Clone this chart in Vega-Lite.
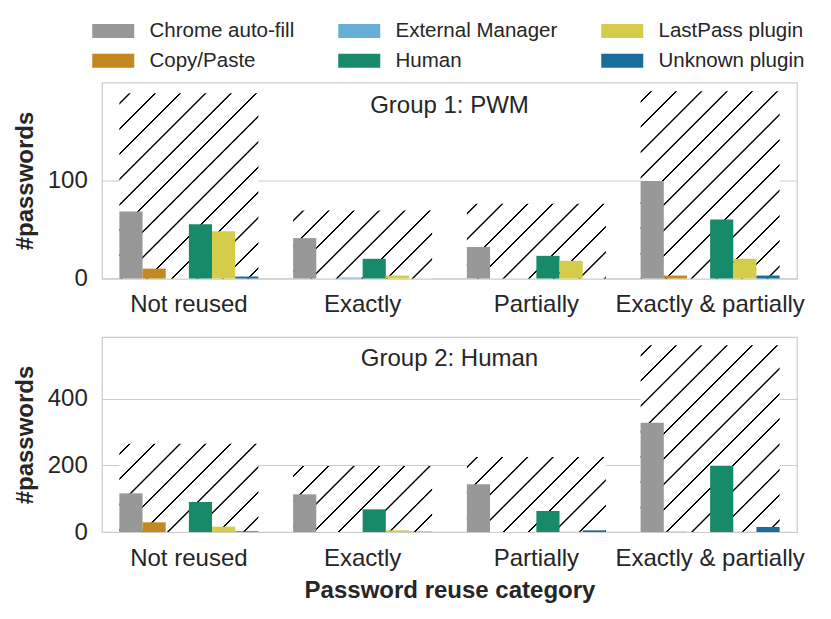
{
  "$schema": "https://vega.github.io/schema/vega-lite/v6.json",
  "background": "white",
  "padding": {"left": 12, "top": 20.5, "right": 24, "bottom": 10},
  "datasets": {
    "bars": [
      {"group": "PWM", "category": "Not reused", "method": "Chrome auto-fill", "n": 68},
      {"group": "PWM", "category": "Not reused", "method": "Copy/Paste", "n": 10},
      {"group": "PWM", "category": "Not reused", "method": "External Manager", "n": 0},
      {"group": "PWM", "category": "Not reused", "method": "Human", "n": 55},
      {"group": "PWM", "category": "Not reused", "method": "LastPass plugin", "n": 48},
      {"group": "PWM", "category": "Not reused", "method": "Unknown plugin", "n": 2},
      {"group": "PWM", "category": "Exactly", "method": "Chrome auto-fill", "n": 41},
      {"group": "PWM", "category": "Exactly", "method": "Copy/Paste", "n": 0},
      {"group": "PWM", "category": "Exactly", "method": "External Manager", "n": 1},
      {"group": "PWM", "category": "Exactly", "method": "Human", "n": 20},
      {"group": "PWM", "category": "Exactly", "method": "LastPass plugin", "n": 3},
      {"group": "PWM", "category": "Exactly", "method": "Unknown plugin", "n": 0},
      {"group": "PWM", "category": "Partially", "method": "Chrome auto-fill", "n": 32},
      {"group": "PWM", "category": "Partially", "method": "Copy/Paste", "n": 0},
      {"group": "PWM", "category": "Partially", "method": "External Manager", "n": 0},
      {"group": "PWM", "category": "Partially", "method": "Human", "n": 23},
      {"group": "PWM", "category": "Partially", "method": "LastPass plugin", "n": 18},
      {"group": "PWM", "category": "Partially", "method": "Unknown plugin", "n": 0},
      {"group": "PWM", "category": "Exactly & partially", "method": "Chrome auto-fill", "n": 99},
      {"group": "PWM", "category": "Exactly & partially", "method": "Copy/Paste", "n": 3},
      {"group": "PWM", "category": "Exactly & partially", "method": "External Manager", "n": 0},
      {"group": "PWM", "category": "Exactly & partially", "method": "Human", "n": 60},
      {"group": "PWM", "category": "Exactly & partially", "method": "LastPass plugin", "n": 20},
      {"group": "PWM", "category": "Exactly & partially", "method": "Unknown plugin", "n": 3},
      {"group": "Human", "category": "Not reused", "method": "Chrome auto-fill", "n": 116},
      {"group": "Human", "category": "Not reused", "method": "Copy/Paste", "n": 29},
      {"group": "Human", "category": "Not reused", "method": "External Manager", "n": 0},
      {"group": "Human", "category": "Not reused", "method": "Human", "n": 90},
      {"group": "Human", "category": "Not reused", "method": "LastPass plugin", "n": 16},
      {"group": "Human", "category": "Not reused", "method": "Unknown plugin", "n": 2},
      {"group": "Human", "category": "Exactly", "method": "Chrome auto-fill", "n": 113},
      {"group": "Human", "category": "Exactly", "method": "Copy/Paste", "n": 0},
      {"group": "Human", "category": "Exactly", "method": "External Manager", "n": 0},
      {"group": "Human", "category": "Exactly", "method": "Human", "n": 68},
      {"group": "Human", "category": "Exactly", "method": "LastPass plugin", "n": 5},
      {"group": "Human", "category": "Exactly", "method": "Unknown plugin", "n": 1},
      {"group": "Human", "category": "Partially", "method": "Chrome auto-fill", "n": 143},
      {"group": "Human", "category": "Partially", "method": "Copy/Paste", "n": 0},
      {"group": "Human", "category": "Partially", "method": "External Manager", "n": 0},
      {"group": "Human", "category": "Partially", "method": "Human", "n": 63},
      {"group": "Human", "category": "Partially", "method": "LastPass plugin", "n": 1},
      {"group": "Human", "category": "Partially", "method": "Unknown plugin", "n": 5},
      {"group": "Human", "category": "Exactly & partially", "method": "Chrome auto-fill", "n": 328},
      {"group": "Human", "category": "Exactly & partially", "method": "Copy/Paste", "n": 1},
      {"group": "Human", "category": "Exactly & partially", "method": "External Manager", "n": 0},
      {"group": "Human", "category": "Exactly & partially", "method": "Human", "n": 199},
      {"group": "Human", "category": "Exactly & partially", "method": "LastPass plugin", "n": 1},
      {"group": "Human", "category": "Exactly & partially", "method": "Unknown plugin", "n": 15}
    ],
    "totals": [
      {"group": "PWM", "category": "Not reused", "n": 188},
      {"group": "PWM", "category": "Exactly", "n": 69},
      {"group": "PWM", "category": "Partially", "n": 76},
      {"group": "PWM", "category": "Exactly & partially", "n": 190},
      {"group": "Human", "category": "Not reused", "n": 265},
      {"group": "Human", "category": "Exactly", "n": 198},
      {"group": "Human", "category": "Partially", "n": 225},
      {"group": "Human", "category": "Exactly & partially", "n": 560}
    ]
  },
  "vconcat": [
    {
      "title": {"text": "Group 1: PWM", "offset": -54.8, "baseline": "alphabetic", "frame": "group", "anchor": "middle", "font": "Liberation Sans", "fontSize": 24, "fontWeight": "normal", "color": "#262626"},
      "width": 695,
      "height": 196,
      "encoding": {
        "x": {"field": "category", "type": "nominal", "scale": {"domain": ["Not reused", "Exactly", "Partially", "Exactly & partially"], "paddingInner": 0.2, "paddingOuter": 0.1}, "axis": {"title": null}},
        "y": {"field": "n", "type": "quantitative", "stack": null, "scale": {"domain": [0, 199], "nice": false, "zero": true}, "axis": {"title": "#passwords", "values": [0, 100]}}
      },
      "layer": [
        {"data": {"name": "totals"}, "transform": [{"filter": "datum.group === 'PWM' && datum.category === 'Not reused'"}],
         "mark": {"type": "bar", "fill": {"gradient": "linear", "x1": 0, "y1": 0, "x2": 2.592, "y2": 3.454, "stops": [{"offset":0.009,"color":"#fff"},{"offset":0.0096,"color":"#000"},{"offset":0.011,"color":"#000"},{"offset":0.0116,"color":"#fff"},{"offset":0.0343,"color":"#fff"},{"offset":0.0349,"color":"#000"},{"offset":0.0363,"color":"#000"},{"offset":0.0369,"color":"#fff"},{"offset":0.0596,"color":"#fff"},{"offset":0.0602,"color":"#000"},{"offset":0.0616,"color":"#000"},{"offset":0.0622,"color":"#fff"},{"offset":0.0849,"color":"#fff"},{"offset":0.0855,"color":"#000"},{"offset":0.0869,"color":"#000"},{"offset":0.0875,"color":"#fff"},{"offset":0.1102,"color":"#fff"},{"offset":0.1108,"color":"#000"},{"offset":0.1122,"color":"#000"},{"offset":0.1128,"color":"#fff"},{"offset":0.1355,"color":"#fff"},{"offset":0.1361,"color":"#000"},{"offset":0.1375,"color":"#000"},{"offset":0.1381,"color":"#fff"},{"offset":0.1608,"color":"#fff"},{"offset":0.1614,"color":"#000"},{"offset":0.1628,"color":"#000"},{"offset":0.1634,"color":"#fff"},{"offset":0.1861,"color":"#fff"},{"offset":0.1867,"color":"#000"},{"offset":0.1881,"color":"#000"},{"offset":0.1887,"color":"#fff"},{"offset":0.2114,"color":"#fff"},{"offset":0.212,"color":"#000"},{"offset":0.2134,"color":"#000"},{"offset":0.214,"color":"#fff"},{"offset":0.2367,"color":"#fff"},{"offset":0.2373,"color":"#000"},{"offset":0.2387,"color":"#000"},{"offset":0.2393,"color":"#fff"},{"offset":0.262,"color":"#fff"},{"offset":0.2626,"color":"#000"},{"offset":0.264,"color":"#000"},{"offset":0.2646,"color":"#fff"},{"offset":0.2873,"color":"#fff"},{"offset":0.2879,"color":"#000"},{"offset":0.2893,"color":"#000"},{"offset":0.2899,"color":"#fff"},{"offset":0.3126,"color":"#fff"},{"offset":0.3132,"color":"#000"},{"offset":0.3146,"color":"#000"},{"offset":0.3152,"color":"#fff"},{"offset":0.3379,"color":"#fff"},{"offset":0.3385,"color":"#000"},{"offset":0.3399,"color":"#000"},{"offset":0.3405,"color":"#fff"}]}}},
        {"data": {"name": "totals"}, "transform": [{"filter": "datum.group === 'PWM' && datum.category === 'Exactly'"}],
         "mark": {"type": "bar", "fill": {"gradient": "linear", "x1": 0, "y1": 0, "x2": 5.805, "y2": 2.840, "stops": [{"offset":0.009,"color":"#fff"},{"offset":0.0096,"color":"#000"},{"offset":0.011,"color":"#000"},{"offset":0.0116,"color":"#fff"},{"offset":0.0343,"color":"#fff"},{"offset":0.0349,"color":"#000"},{"offset":0.0363,"color":"#000"},{"offset":0.0369,"color":"#fff"},{"offset":0.0596,"color":"#fff"},{"offset":0.0602,"color":"#000"},{"offset":0.0616,"color":"#000"},{"offset":0.0622,"color":"#fff"},{"offset":0.0849,"color":"#fff"},{"offset":0.0855,"color":"#000"},{"offset":0.0869,"color":"#000"},{"offset":0.0875,"color":"#fff"},{"offset":0.1102,"color":"#fff"},{"offset":0.1108,"color":"#000"},{"offset":0.1122,"color":"#000"},{"offset":0.1128,"color":"#fff"},{"offset":0.1355,"color":"#fff"},{"offset":0.1361,"color":"#000"},{"offset":0.1375,"color":"#000"},{"offset":0.1381,"color":"#fff"},{"offset":0.1608,"color":"#fff"},{"offset":0.1614,"color":"#000"},{"offset":0.1628,"color":"#000"},{"offset":0.1634,"color":"#fff"},{"offset":0.1861,"color":"#fff"},{"offset":0.1867,"color":"#000"},{"offset":0.1881,"color":"#000"},{"offset":0.1887,"color":"#fff"},{"offset":0.2114,"color":"#fff"},{"offset":0.212,"color":"#000"},{"offset":0.2134,"color":"#000"},{"offset":0.214,"color":"#fff"},{"offset":0.2367,"color":"#fff"},{"offset":0.2373,"color":"#000"},{"offset":0.2387,"color":"#000"},{"offset":0.2393,"color":"#fff"},{"offset":0.262,"color":"#fff"},{"offset":0.2626,"color":"#000"},{"offset":0.264,"color":"#000"},{"offset":0.2646,"color":"#fff"},{"offset":0.2873,"color":"#fff"},{"offset":0.2879,"color":"#000"},{"offset":0.2893,"color":"#000"},{"offset":0.2899,"color":"#fff"},{"offset":0.3126,"color":"#fff"},{"offset":0.3132,"color":"#000"},{"offset":0.3146,"color":"#000"},{"offset":0.3152,"color":"#fff"},{"offset":0.3379,"color":"#fff"},{"offset":0.3385,"color":"#000"},{"offset":0.3399,"color":"#000"},{"offset":0.3405,"color":"#fff"}]}}},
        {"data": {"name": "totals"}, "transform": [{"filter": "datum.group === 'PWM' && datum.category === 'Partially'"}],
         "mark": {"type": "bar", "fill": {"gradient": "linear", "x1": 0, "y1": 0, "x2": 5.575, "y2": 3.004, "stops": [{"offset":0.009,"color":"#fff"},{"offset":0.0096,"color":"#000"},{"offset":0.011,"color":"#000"},{"offset":0.0116,"color":"#fff"},{"offset":0.0343,"color":"#fff"},{"offset":0.0349,"color":"#000"},{"offset":0.0363,"color":"#000"},{"offset":0.0369,"color":"#fff"},{"offset":0.0596,"color":"#fff"},{"offset":0.0602,"color":"#000"},{"offset":0.0616,"color":"#000"},{"offset":0.0622,"color":"#fff"},{"offset":0.0849,"color":"#fff"},{"offset":0.0855,"color":"#000"},{"offset":0.0869,"color":"#000"},{"offset":0.0875,"color":"#fff"},{"offset":0.1102,"color":"#fff"},{"offset":0.1108,"color":"#000"},{"offset":0.1122,"color":"#000"},{"offset":0.1128,"color":"#fff"},{"offset":0.1355,"color":"#fff"},{"offset":0.1361,"color":"#000"},{"offset":0.1375,"color":"#000"},{"offset":0.1381,"color":"#fff"},{"offset":0.1608,"color":"#fff"},{"offset":0.1614,"color":"#000"},{"offset":0.1628,"color":"#000"},{"offset":0.1634,"color":"#fff"},{"offset":0.1861,"color":"#fff"},{"offset":0.1867,"color":"#000"},{"offset":0.1881,"color":"#000"},{"offset":0.1887,"color":"#fff"},{"offset":0.2114,"color":"#fff"},{"offset":0.212,"color":"#000"},{"offset":0.2134,"color":"#000"},{"offset":0.214,"color":"#fff"},{"offset":0.2367,"color":"#fff"},{"offset":0.2373,"color":"#000"},{"offset":0.2387,"color":"#000"},{"offset":0.2393,"color":"#fff"},{"offset":0.262,"color":"#fff"},{"offset":0.2626,"color":"#000"},{"offset":0.264,"color":"#000"},{"offset":0.2646,"color":"#fff"},{"offset":0.2873,"color":"#fff"},{"offset":0.2879,"color":"#000"},{"offset":0.2893,"color":"#000"},{"offset":0.2899,"color":"#fff"},{"offset":0.3126,"color":"#fff"},{"offset":0.3132,"color":"#000"},{"offset":0.3146,"color":"#000"},{"offset":0.3152,"color":"#fff"},{"offset":0.3379,"color":"#fff"},{"offset":0.3385,"color":"#000"},{"offset":0.3399,"color":"#000"},{"offset":0.3405,"color":"#fff"}]}}},
        {"data": {"name": "totals"}, "transform": [{"filter": "datum.group === 'PWM' && datum.category === 'Exactly & partially'"}],
         "mark": {"type": "bar", "fill": {"gradient": "linear", "x1": 0, "y1": 0, "x2": 2.559, "y2": 3.444, "stops": [{"offset":0.009,"color":"#fff"},{"offset":0.0096,"color":"#000"},{"offset":0.011,"color":"#000"},{"offset":0.0116,"color":"#fff"},{"offset":0.0343,"color":"#fff"},{"offset":0.0349,"color":"#000"},{"offset":0.0363,"color":"#000"},{"offset":0.0369,"color":"#fff"},{"offset":0.0596,"color":"#fff"},{"offset":0.0602,"color":"#000"},{"offset":0.0616,"color":"#000"},{"offset":0.0622,"color":"#fff"},{"offset":0.0849,"color":"#fff"},{"offset":0.0855,"color":"#000"},{"offset":0.0869,"color":"#000"},{"offset":0.0875,"color":"#fff"},{"offset":0.1102,"color":"#fff"},{"offset":0.1108,"color":"#000"},{"offset":0.1122,"color":"#000"},{"offset":0.1128,"color":"#fff"},{"offset":0.1355,"color":"#fff"},{"offset":0.1361,"color":"#000"},{"offset":0.1375,"color":"#000"},{"offset":0.1381,"color":"#fff"},{"offset":0.1608,"color":"#fff"},{"offset":0.1614,"color":"#000"},{"offset":0.1628,"color":"#000"},{"offset":0.1634,"color":"#fff"},{"offset":0.1861,"color":"#fff"},{"offset":0.1867,"color":"#000"},{"offset":0.1881,"color":"#000"},{"offset":0.1887,"color":"#fff"},{"offset":0.2114,"color":"#fff"},{"offset":0.212,"color":"#000"},{"offset":0.2134,"color":"#000"},{"offset":0.214,"color":"#fff"},{"offset":0.2367,"color":"#fff"},{"offset":0.2373,"color":"#000"},{"offset":0.2387,"color":"#000"},{"offset":0.2393,"color":"#fff"},{"offset":0.262,"color":"#fff"},{"offset":0.2626,"color":"#000"},{"offset":0.264,"color":"#000"},{"offset":0.2646,"color":"#fff"},{"offset":0.2873,"color":"#fff"},{"offset":0.2879,"color":"#000"},{"offset":0.2893,"color":"#000"},{"offset":0.2899,"color":"#fff"},{"offset":0.3126,"color":"#fff"},{"offset":0.3132,"color":"#000"},{"offset":0.3146,"color":"#000"},{"offset":0.3152,"color":"#fff"},{"offset":0.3379,"color":"#fff"},{"offset":0.3385,"color":"#000"},{"offset":0.3399,"color":"#000"},{"offset":0.3405,"color":"#fff"}]}}},
        {"data": {"name": "bars"}, "transform": [{"filter": "datum.group === 'PWM'"}],
         "mark": {"type": "bar"},
         "encoding": {
           "xOffset": {"field": "method", "type": "nominal", "scale": {"domain": ["Chrome auto-fill", "Copy/Paste", "External Manager", "Human", "LastPass plugin", "Unknown plugin"], "paddingInner": 0, "paddingOuter": 0}},
           "color": {"field": "method", "type": "nominal", "scale": {"domain": ["Chrome auto-fill", "Copy/Paste", "External Manager", "Human", "LastPass plugin", "Unknown plugin"], "range": ["#989898", "#C38820", "#68AFD7", "#168A6A", "#D5CD4A", "#176D9C"]},
             "legend": {"orient": "none", "legendX": -13, "legendY": -62, "columns": 3, "title": null, "symbolType": "M-3,-1H3V1H-3Z", "symbolSize": 196, "symbolOffset": 14, "labelOffset": 26, "labelFontSize": 20.5, "labelFont": "Liberation Sans", "labelColor": "#262626", "columnPadding": 40, "rowPadding": 9, "symbolStrokeWidth": 0, "symbolOpacity": 1, "labelLimit": 0}}
         }}
      ]
    },
    {
      "title": {"text": "Group 2: Human", "offset": -53, "baseline": "alphabetic", "frame": "group", "anchor": "middle", "font": "Liberation Sans", "fontSize": 24, "fontWeight": "normal", "color": "#262626"},
      "width": 695,
      "height": 195,
      "encoding": {
        "x": {"field": "category", "type": "nominal", "scale": {"domain": ["Not reused", "Exactly", "Partially", "Exactly & partially"], "paddingInner": 0.2, "paddingOuter": 0.1}, "axis": {"title": "Password reuse category"}},
        "y": {"field": "n", "type": "quantitative", "stack": null, "scale": {"domain": [0, 585], "nice": false, "zero": true}, "axis": {"title": "#passwords", "values": [0, 200, 400]}}
      },
      "layer": [
        {"data": {"name": "totals"}, "transform": [{"filter": "datum.group === 'Human' && datum.category === 'Not reused'"}],
         "mark": {"type": "bar", "fill": {"gradient": "linear", "x1": 0, "y1": 0, "x2": 5.126, "y2": 3.256, "stops": [{"offset":0.009,"color":"#fff"},{"offset":0.0096,"color":"#000"},{"offset":0.011,"color":"#000"},{"offset":0.0116,"color":"#fff"},{"offset":0.0343,"color":"#fff"},{"offset":0.0349,"color":"#000"},{"offset":0.0363,"color":"#000"},{"offset":0.0369,"color":"#fff"},{"offset":0.0596,"color":"#fff"},{"offset":0.0602,"color":"#000"},{"offset":0.0616,"color":"#000"},{"offset":0.0622,"color":"#fff"},{"offset":0.0849,"color":"#fff"},{"offset":0.0855,"color":"#000"},{"offset":0.0869,"color":"#000"},{"offset":0.0875,"color":"#fff"},{"offset":0.1102,"color":"#fff"},{"offset":0.1108,"color":"#000"},{"offset":0.1122,"color":"#000"},{"offset":0.1128,"color":"#fff"},{"offset":0.1355,"color":"#fff"},{"offset":0.1361,"color":"#000"},{"offset":0.1375,"color":"#000"},{"offset":0.1381,"color":"#fff"},{"offset":0.1608,"color":"#fff"},{"offset":0.1614,"color":"#000"},{"offset":0.1628,"color":"#000"},{"offset":0.1634,"color":"#fff"},{"offset":0.1861,"color":"#fff"},{"offset":0.1867,"color":"#000"},{"offset":0.1881,"color":"#000"},{"offset":0.1887,"color":"#fff"},{"offset":0.2114,"color":"#fff"},{"offset":0.212,"color":"#000"},{"offset":0.2134,"color":"#000"},{"offset":0.214,"color":"#fff"},{"offset":0.2367,"color":"#fff"},{"offset":0.2373,"color":"#000"},{"offset":0.2387,"color":"#000"},{"offset":0.2393,"color":"#fff"},{"offset":0.262,"color":"#fff"},{"offset":0.2626,"color":"#000"},{"offset":0.264,"color":"#000"},{"offset":0.2646,"color":"#fff"},{"offset":0.2873,"color":"#fff"},{"offset":0.2879,"color":"#000"},{"offset":0.2893,"color":"#000"},{"offset":0.2899,"color":"#fff"},{"offset":0.3126,"color":"#fff"},{"offset":0.3132,"color":"#000"},{"offset":0.3146,"color":"#000"},{"offset":0.3152,"color":"#fff"},{"offset":0.3379,"color":"#fff"},{"offset":0.3385,"color":"#000"},{"offset":0.3399,"color":"#000"},{"offset":0.3405,"color":"#fff"}]}}},
        {"data": {"name": "totals"}, "transform": [{"filter": "datum.group === 'Human' && datum.category === 'Exactly'"}],
         "mark": {"type": "bar", "fill": {"gradient": "linear", "x1": 0, "y1": 0, "x2": 5.871, "y2": 2.788, "stops": [{"offset":0.009,"color":"#fff"},{"offset":0.0096,"color":"#000"},{"offset":0.011,"color":"#000"},{"offset":0.0116,"color":"#fff"},{"offset":0.0343,"color":"#fff"},{"offset":0.0349,"color":"#000"},{"offset":0.0363,"color":"#000"},{"offset":0.0369,"color":"#fff"},{"offset":0.0596,"color":"#fff"},{"offset":0.0602,"color":"#000"},{"offset":0.0616,"color":"#000"},{"offset":0.0622,"color":"#fff"},{"offset":0.0849,"color":"#fff"},{"offset":0.0855,"color":"#000"},{"offset":0.0869,"color":"#000"},{"offset":0.0875,"color":"#fff"},{"offset":0.1102,"color":"#fff"},{"offset":0.1108,"color":"#000"},{"offset":0.1122,"color":"#000"},{"offset":0.1128,"color":"#fff"},{"offset":0.1355,"color":"#fff"},{"offset":0.1361,"color":"#000"},{"offset":0.1375,"color":"#000"},{"offset":0.1381,"color":"#fff"},{"offset":0.1608,"color":"#fff"},{"offset":0.1614,"color":"#000"},{"offset":0.1628,"color":"#000"},{"offset":0.1634,"color":"#fff"},{"offset":0.1861,"color":"#fff"},{"offset":0.1867,"color":"#000"},{"offset":0.1881,"color":"#000"},{"offset":0.1887,"color":"#fff"},{"offset":0.2114,"color":"#fff"},{"offset":0.212,"color":"#000"},{"offset":0.2134,"color":"#000"},{"offset":0.214,"color":"#fff"},{"offset":0.2367,"color":"#fff"},{"offset":0.2373,"color":"#000"},{"offset":0.2387,"color":"#000"},{"offset":0.2393,"color":"#fff"},{"offset":0.262,"color":"#fff"},{"offset":0.2626,"color":"#000"},{"offset":0.264,"color":"#000"},{"offset":0.2646,"color":"#fff"},{"offset":0.2873,"color":"#fff"},{"offset":0.2879,"color":"#000"},{"offset":0.2893,"color":"#000"},{"offset":0.2899,"color":"#fff"},{"offset":0.3126,"color":"#fff"},{"offset":0.3132,"color":"#000"},{"offset":0.3146,"color":"#000"},{"offset":0.3152,"color":"#fff"},{"offset":0.3379,"color":"#fff"},{"offset":0.3385,"color":"#000"},{"offset":0.3399,"color":"#000"},{"offset":0.3405,"color":"#fff"}]}}},
        {"data": {"name": "totals"}, "transform": [{"filter": "datum.group === 'Human' && datum.category === 'Partially'"}],
         "mark": {"type": "bar", "fill": {"gradient": "linear", "x1": 0, "y1": 0, "x2": 5.572, "y2": 3.007, "stops": [{"offset":0.009,"color":"#fff"},{"offset":0.0096,"color":"#000"},{"offset":0.011,"color":"#000"},{"offset":0.0116,"color":"#fff"},{"offset":0.0343,"color":"#fff"},{"offset":0.0349,"color":"#000"},{"offset":0.0363,"color":"#000"},{"offset":0.0369,"color":"#fff"},{"offset":0.0596,"color":"#fff"},{"offset":0.0602,"color":"#000"},{"offset":0.0616,"color":"#000"},{"offset":0.0622,"color":"#fff"},{"offset":0.0849,"color":"#fff"},{"offset":0.0855,"color":"#000"},{"offset":0.0869,"color":"#000"},{"offset":0.0875,"color":"#fff"},{"offset":0.1102,"color":"#fff"},{"offset":0.1108,"color":"#000"},{"offset":0.1122,"color":"#000"},{"offset":0.1128,"color":"#fff"},{"offset":0.1355,"color":"#fff"},{"offset":0.1361,"color":"#000"},{"offset":0.1375,"color":"#000"},{"offset":0.1381,"color":"#fff"},{"offset":0.1608,"color":"#fff"},{"offset":0.1614,"color":"#000"},{"offset":0.1628,"color":"#000"},{"offset":0.1634,"color":"#fff"},{"offset":0.1861,"color":"#fff"},{"offset":0.1867,"color":"#000"},{"offset":0.1881,"color":"#000"},{"offset":0.1887,"color":"#fff"},{"offset":0.2114,"color":"#fff"},{"offset":0.212,"color":"#000"},{"offset":0.2134,"color":"#000"},{"offset":0.214,"color":"#fff"},{"offset":0.2367,"color":"#fff"},{"offset":0.2373,"color":"#000"},{"offset":0.2387,"color":"#000"},{"offset":0.2393,"color":"#fff"},{"offset":0.262,"color":"#fff"},{"offset":0.2626,"color":"#000"},{"offset":0.264,"color":"#000"},{"offset":0.2646,"color":"#fff"},{"offset":0.2873,"color":"#fff"},{"offset":0.2879,"color":"#000"},{"offset":0.2893,"color":"#000"},{"offset":0.2899,"color":"#fff"},{"offset":0.3126,"color":"#fff"},{"offset":0.3132,"color":"#000"},{"offset":0.3146,"color":"#000"},{"offset":0.3152,"color":"#fff"},{"offset":0.3379,"color":"#fff"},{"offset":0.3385,"color":"#000"},{"offset":0.3399,"color":"#000"},{"offset":0.3405,"color":"#fff"}]}}},
        {"data": {"name": "totals"}, "transform": [{"filter": "datum.group === 'Human' && datum.category === 'Exactly & partially'"}],
         "mark": {"type": "bar", "fill": {"gradient": "linear", "x1": 0, "y1": 0, "x2": 2.566, "y2": 3.446, "stops": [{"offset":0.009,"color":"#fff"},{"offset":0.0096,"color":"#000"},{"offset":0.011,"color":"#000"},{"offset":0.0116,"color":"#fff"},{"offset":0.0343,"color":"#fff"},{"offset":0.0349,"color":"#000"},{"offset":0.0363,"color":"#000"},{"offset":0.0369,"color":"#fff"},{"offset":0.0596,"color":"#fff"},{"offset":0.0602,"color":"#000"},{"offset":0.0616,"color":"#000"},{"offset":0.0622,"color":"#fff"},{"offset":0.0849,"color":"#fff"},{"offset":0.0855,"color":"#000"},{"offset":0.0869,"color":"#000"},{"offset":0.0875,"color":"#fff"},{"offset":0.1102,"color":"#fff"},{"offset":0.1108,"color":"#000"},{"offset":0.1122,"color":"#000"},{"offset":0.1128,"color":"#fff"},{"offset":0.1355,"color":"#fff"},{"offset":0.1361,"color":"#000"},{"offset":0.1375,"color":"#000"},{"offset":0.1381,"color":"#fff"},{"offset":0.1608,"color":"#fff"},{"offset":0.1614,"color":"#000"},{"offset":0.1628,"color":"#000"},{"offset":0.1634,"color":"#fff"},{"offset":0.1861,"color":"#fff"},{"offset":0.1867,"color":"#000"},{"offset":0.1881,"color":"#000"},{"offset":0.1887,"color":"#fff"},{"offset":0.2114,"color":"#fff"},{"offset":0.212,"color":"#000"},{"offset":0.2134,"color":"#000"},{"offset":0.214,"color":"#fff"},{"offset":0.2367,"color":"#fff"},{"offset":0.2373,"color":"#000"},{"offset":0.2387,"color":"#000"},{"offset":0.2393,"color":"#fff"},{"offset":0.262,"color":"#fff"},{"offset":0.2626,"color":"#000"},{"offset":0.264,"color":"#000"},{"offset":0.2646,"color":"#fff"},{"offset":0.2873,"color":"#fff"},{"offset":0.2879,"color":"#000"},{"offset":0.2893,"color":"#000"},{"offset":0.2899,"color":"#fff"},{"offset":0.3126,"color":"#fff"},{"offset":0.3132,"color":"#000"},{"offset":0.3146,"color":"#000"},{"offset":0.3152,"color":"#fff"},{"offset":0.3379,"color":"#fff"},{"offset":0.3385,"color":"#000"},{"offset":0.3399,"color":"#000"},{"offset":0.3405,"color":"#fff"}]}}},
        {"data": {"name": "bars"}, "transform": [{"filter": "datum.group === 'Human'"}],
         "mark": {"type": "bar"},
         "encoding": {
           "xOffset": {"field": "method", "type": "nominal", "scale": {"domain": ["Chrome auto-fill", "Copy/Paste", "External Manager", "Human", "LastPass plugin", "Unknown plugin"], "paddingInner": 0, "paddingOuter": 0}},
           "color": {"field": "method", "type": "nominal", "scale": {"domain": ["Chrome auto-fill", "Copy/Paste", "External Manager", "Human", "LastPass plugin", "Unknown plugin"], "range": ["#989898", "#C38820", "#68AFD7", "#168A6A", "#D5CD4A", "#176D9C"]}}
         }}
      ]
    }
  ],
  "config": {
    "font": "Liberation Sans",
    "concat": {"spacing": 18.5},
    "view": {"stroke": "#cccccc", "strokeWidth": 1.25},
    "axis": {"labelFont": "Liberation Sans", "labelFontSize": 24, "labelColor": "#262626", "titleFont": "Liberation Sans", "titleFontSize": 24, "titleFontWeight": "bold", "titleColor": "#262626", "domain": false, "ticks": false, "tickSize": 0, "gridColor": "#cccccc", "gridWidth": 1, "labelLimit": 0},
    "axisX": {"grid": false, "labelAngle": 0, "labelBaseline": "alphabetic", "labelPadding": 33, "titlePadding": 8.5},
    "axisY": {"grid": true, "labelPadding": 14.7, "titlePadding": 10}
  }
}
